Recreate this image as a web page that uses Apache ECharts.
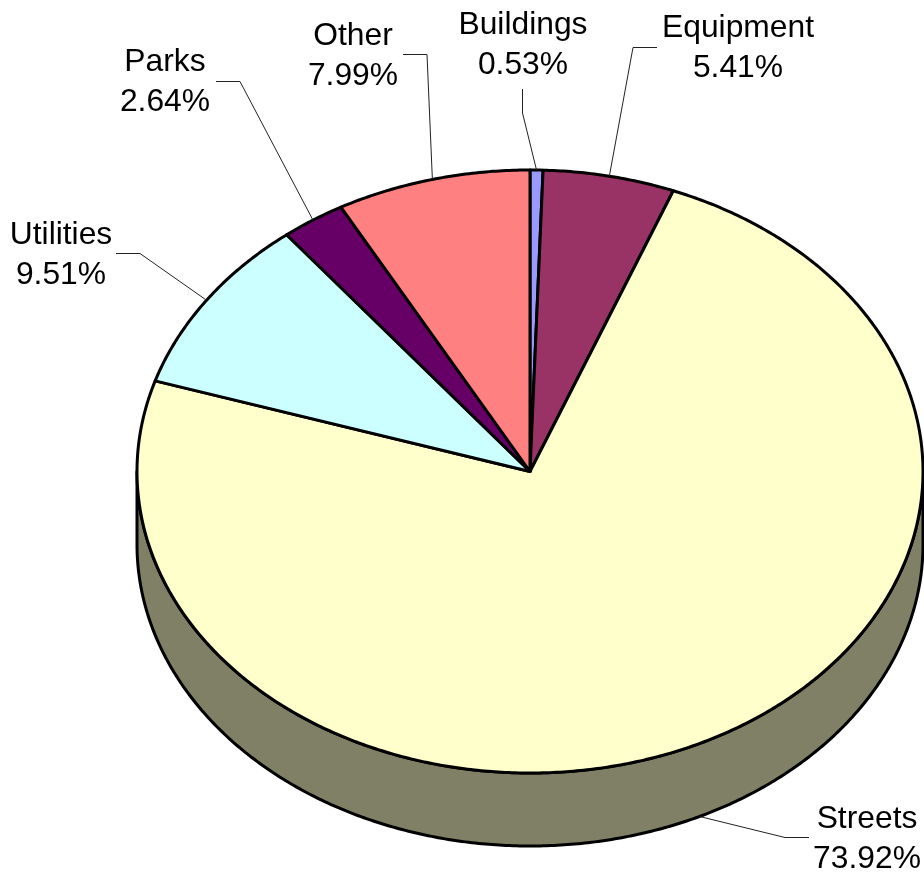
<!DOCTYPE html>
<html>
<head>
<meta charset="utf-8">
<style>html,body{margin:0;padding:0;background:#fff}#c{width:924px;height:876px}</style>
<script src="https://cdn.jsdelivr.net/npm/echarts@6/dist/echarts.min.js"></script>
</head>
<body>
<div id="c"></div>
<script>
var categories = ['Buildings', 'Equipment', 'Streets', 'Utilities', 'Parks', 'Other'];
var shares = [0.53, 5.41, 73.92, 9.51, 2.64, 7.99];
var sliceColors = ['#9999FF', '#993366', '#FFFFCC', '#CCFFFF', '#660066', '#FF8080'];
var wallColor = '#808066';

var CX = 530, CY = 471.5, RX = 393, RY = 301.5, DEPTH = 73;
var labelCentres = [[523, 45], [738, 48], [867, 839], [61, 255], [165, 82], [353, 56]];
var elbows = [[522.5, 113, 522.5, 89], [633, 47.5, 657, 47.5], [785, 837.5, 809, 837.5],
              [140, 253.5, 116, 253.5], [240, 81.5, 216, 81.5], [427, 54.5, 403, 54.5]];

var total = shares.reduce(function (a, b) { return a + b; }, 0);
var rows = [], running = 0;
shares.forEach(function (v) { rows.push([running, v]); running += v; });

function pt(deg, dy) {
  var t = deg * Math.PI / 180;
  return [CX + RX * Math.sin(t), CY - RY * Math.cos(t) + (dy || 0)];
}
function arc(a, b, dy) {
  var out = [], n = Math.max(2, Math.ceil(Math.abs(b - a) * 2));
  for (var i = 0; i <= n; i++) out.push(pt(a + (b - a) * i / n, dy));
  return out;
}
function angles(api) {
  var s = api.value(0) / total * 360;
  return [s, s + api.value(1) / total * 360];
}

function renderWall(params, api) {
  var r = angles(api), a = Math.max(r[0], 90), b = Math.min(r[1], 270);
  if (a >= b) return { type: 'group', children: [] };
  return {
    type: 'polygon',
    shape: { points: arc(a, b, 0).concat(arc(b, a, DEPTH)) },
    style: { fill: wallColor, stroke: '#000', lineWidth: 3, lineJoin: 'round' }
  };
}
function renderTop(params, api) {
  var r = angles(api);
  return {
    type: 'polygon',
    shape: { points: [[CX, CY]].concat(arc(r[0], r[1], 0)) },
    style: { fill: sliceColors[params.dataIndex], stroke: '#000', lineWidth: 3, lineJoin: 'round' }
  };
}
function renderLabel(params, api) {
  var i = params.dataIndex, r = angles(api), mid = (r[0] + r[1]) / 2;
  var front = mid > 90 && mid < 270;
  var e = elbows[i], c = labelCentres[i];
  return {
    type: 'group',
    children: [{
      type: 'polyline',
      shape: { points: [pt(mid, front ? DEPTH : 0), [e[0], e[1]], [e[2], e[3]]] },
      style: { fill: null, stroke: '#222', lineWidth: 1 }
    }, {
      type: 'text',
      x: c[0], y: c[1],
      style: {
        text: categories[i] + '\n' + api.value(1).toFixed(2) + '%',
        fill: '#000', font: '31.8px "Liberation Sans", Arial, sans-serif',
        lineHeight: 40, align: 'center', verticalAlign: 'middle'
      }
    }]
  };
}

var chart = echarts.init(document.getElementById('c'), null, { renderer: 'canvas' });
chart.setOption({
  animation: false,
  backgroundColor: '#fff',
  series: [
    { type: 'custom', coordinateSystem: 'none', data: rows, renderItem: renderWall, silent: true, z: 1 },
    { type: 'custom', coordinateSystem: 'none', data: rows, renderItem: renderTop, silent: true, z: 2 },
    { type: 'custom', coordinateSystem: 'none', data: rows, renderItem: renderLabel, silent: true, z: 3 }
  ]
});
</script>
</body>
</html>
